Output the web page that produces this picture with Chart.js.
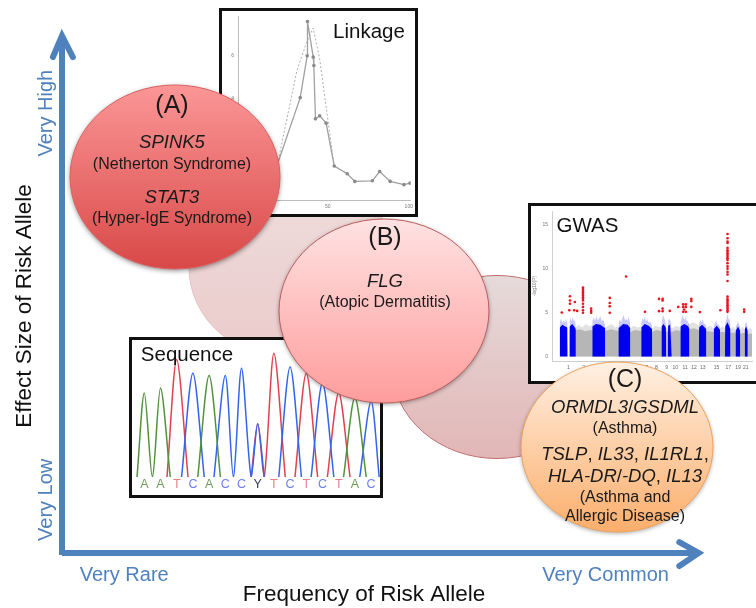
<!DOCTYPE html>
<html>
<head>
<meta charset="utf-8">
<title>Risk allele frequency and effect size</title>
<script src="https://cdn.jsdelivr.net/npm/chart.js@4/dist/chart.umd.min.js"></script>
<style>
  html, body { margin: 0; padding: 0; background: #fff; overflow: hidden; }
  #stage { position: relative; width: 756px; height: 608px; overflow: hidden; filter: blur(0.35px); }
  canvas { position: absolute; left: 0; top: 0; }
  .inset { position: absolute; box-sizing: border-box; border: 3px solid #111; background: #fff; }
  #linkage-box { left: 219px; top: 8px; width: 199px; height: 209px; }
  #sequence-box { left: 129px; top: 337px; width: 254px; height: 161px; }
  #gwas-box { left: 528px; top: 203px; width: 231px; height: 181px; }
</style>
</head>
<body>
<div id="stage">
  <canvas id="base-chart" width="756" height="608"></canvas>
  <div id="linkage-box" class="inset"><canvas id="linkage-chart" width="193" height="203"></canvas></div>
  <div id="sequence-box" class="inset"><canvas id="sequence-chart" width="248" height="155"></canvas></div>
  <div id="gwas-box" class="inset"><canvas id="gwas-chart" width="225" height="175"></canvas></div>
  <canvas id="bubble-chart" width="756" height="608"></canvas>
</div>
<script>
const FONT = '"Liberation Sans", Arial, sans-serif';
const AXIS_BLUE = "#4f81bd";

// main axes
const freqTickValues = [10.3, 90];
const freqTickLabels = ["Very Rare", "Very Common"];
const effectTickValues = [89.2, 10.6];
const effectTickLabels = ["Very High", "Very Low"];
const xAxisTitle = "Frequency of Risk Allele";
const yAxisTitle = "Effect Size of Risk Allele";

// bubbles, in axis units
const paleX = [38.41, 72.02];
const paleY = [57.72, 37.6];
const paleRx = [17.38, 17.38];
const paleRy = [18.7, 18.6];
const bubbleX = [18.71, 53.31, 91.89];
const bubbleY = [76.22, 48.98, 21.34];
const bubbleRx = [17.38, 17.38, 15.89];
const bubbleRy = [18.7, 18.7, 17.28];
const bubbleText = [
  ["(A)", "*SPINK5*", "(Netherton Syndrome)", "*STAT3*", "(Hyper-IgE Syndrome)"],
  ["(B)", "*FLG*", "(Atopic Dermatitis)"],
  ["(C)", "*ORMDL3*/*GSDML*", "(Asthma)", "*TSLP*, *IL33*, *IL1RL1*,", "*HLA-DR*/*-DQ*, *IL13*", "(Asthma and", "Allergic Disease)"],
];
const bubbleTextY = [
  [106, 143, 165, 198, 219],
  [238, 282, 303],
  [380, 408, 429, 455, 477, 498, 517],
];
const bubbleTextX = [172, 385, 625];

// linkage panel
const linkageCm = [-5, 5, 19, 33, 37.3, 37.5, 41, 41.4, 42.4, 45, 49, 54, 62, 66.7, 77.5, 82, 88.5, 97, 100.8];
const linkageLod = [0, 0.1, 0.95, 4.05, 6.0, 7.6, 5.95, 5.55, 3.06, 3.2, 2.86, 0.86, 0.5, 0.14, 0.17, 0.6, 0.14, -0.01, 0.06];
const dottedCm = [19, 31, 37.3, 41, 45, 50, 54, 62, 66.7];
const dottedLod = [0.95, 5.33, 6.7, 7.3, 5.86, 3.06, 0.86, 0.5, 0.14];
const linkageCmTicks = [0, 50, 100];
const linkageLodTicks = [0, 2, 4, 6];

// sequence trace panel, one list per channel (null y breaks the trace)
const bases = ["A", "A", "T", "C", "A", "C", "C", "Y", "T", "C", "T", "C", "T", "A", "C"];
const traceA = [[-0.45, 0], [0, 68], [0.5, 0], [1, 72], [1.6, 0], [1.6, null], [3.3, 0], [4, 82], [4.7, 0], [4.7, null], [12.3, 0], [13, 64], [13.7, 0]];
const traceC = [[2.3, 0], [3, 84], [3.7, 0], [3.7, null], [4.3, 0], [5, 82], [5.5, 0], [6, 88], [6.6, 0], [7, 43], [7.4, 0], [7.4, null], [8.3, 0], [9, 89], [9.7, 0], [9.7, null], [10.3, 0], [11, 76], [11.7, 0], [11.7, null], [13.3, 0], [14, 61], [14.5, 0]];
const traceT = [[1.4, 0], [2, 95], [2.7, 0], [2.7, null], [6.6, 0], [7, 43], [7.4, 0], [8, 100], [8.7, 0], [8.7, null], [9.3, 0], [10, 84], [10.7, 0], [10.7, null], [11.3, 0], [12, 68], [12.7, 0]];

// manhattan panel, x is position along the genome, y is -log10(P)
const chromTicks = [50, 97, 143, 183, 223, 257, 290, 320, 351, 378, 408, 435, 462, 484, 504, 522, 540, 555, 570, 584, 594, 607];
const chromLabels = ["1", "2", "3", "4", "5", "6", "7", "8", "9", "10", "11", "12", "13", "", "15", "", "17", "", "19", "", "21", ""];
const pValueTicks = [0, 5, 10, 15];
const grayEnvelope = [[53, 0], [54, 3.2], [73, 3.3], [82, 3.6], [92, 3.3], [104, 3.7], [115, 3.4], [123, 3.6], [163, 3.3], [172, 3.5], [184, 3.7], [194, 3.3], [203, 3.4], [240, 3.2], [250, 3.5], [262, 3.3], [273, 3.4], [307, 3.2], [316, 3.5], [335, 3.3], [367, 3.2], [380, 3.5], [393, 3.3], [421, 3.7], [435, 3.9], [450, 3.5], [473, 3.3], [484, 3.5], [495, 3.2], [515, 3.2], [522, 3.4], [530, 3.2], [547, 3.1], [555, 3.4], [562, 3.1], [577, 3.0], [584, 3.4], [590, 3.1], [600, 3.0], [607, 3.3], [613, 3.0], [613, 0]];
const grayCore = [[53, 0], [54, 2.9], [73, 3.0], [85, 3.1], [100, 2.9], [123, 3.0], [163, 2.9], [180, 3.1], [203, 2.9], [240, 2.8], [255, 3.0], [273, 2.9], [307, 2.8], [320, 3.0], [335, 2.9], [367, 2.8], [380, 3.0], [393, 2.9], [421, 3.1], [435, 3.2], [450, 3.0], [473, 2.9], [495, 2.8], [515, 2.8], [530, 2.8], [547, 2.7], [562, 2.7], [577, 2.6], [590, 2.7], [600, 2.6], [613, 2.6], [613, 0]];
const blueEnvelope = [
  [23, 0], [24, 3.9], [28, 4.3], [32, 3.8], [36, 4.1], [40, 3.8], [43, 4.3], [47, 3.7], [48, 0], [48, null],
  [53, 0], [54, 4.0], [57, 4.4], [60, 4.0], [64, 4.5], [67, 4.0], [70, 4.1], [73, 3.5], [73, 0], [73, null],
  [123, 0], [124, 4.1], [128, 4.5], [132, 4.0], [136, 4.6], [140, 4.1], [144, 4.3], [148, 4.6], [152, 4.0], [156, 4.2], [163, 3.6], [163, 0], [163, null],
  [203, 0], [204, 3.8], [208, 4.2], [212, 3.9], [216, 4.4], [220, 4.7], [224, 4.1], [228, 4.3], [232, 4.0], [235, 4.6], [240, 3.7], [240, 0], [240, null],
  [273, 0], [274, 3.9], [278, 4.4], [281, 4.1], [285, 4.5], [288, 4.0], [292, 4.2], [296, 3.9], [302, 3.9], [307, 3.5], [307, 0], [307, null],
  [335, 0], [336, 3.9], [340, 4.7], [345, 4.3], [349, 3.7], [350, 0], [350, null],
  [355, 0], [356, 4.1], [360, 4.3], [365, 3.8], [367, 0], [367, null],
  [393, 0], [394, 4.0], [398, 4.4], [401, 4.7], [405, 4.1], [408, 4.5], [412, 4.1], [415, 4.1], [421, 3.6], [421, 0], [421, null],
  [450, 0], [451, 3.8], [455, 4.2], [458, 3.9], [462, 4.2], [465, 3.8], [473, 3.5], [473, 0], [473, null],
  [495, 0], [496, 3.5], [500, 3.8], [503, 4.1], [507, 3.6], [510, 3.7], [515, 3.3], [515, 0], [515, null],
  [530, 0], [531, 3.8], [535, 4.3], [538, 4.9], [541, 4.2], [544, 4.3], [547, 3.5], [547, 0], [547, null],
  [562, 0], [563, 3.4], [567, 3.7], [570, 4.0], [574, 3.5], [577, 3.4], [577, 0], [577, null],
  [590, 0], [591, 3.5], [595, 4.0], [600, 3.3], [600, 0],
];
const blueCore = [
  [23, 0], [24, 3.3], [32, 3.6], [40, 3.4], [47, 3.3], [48, 0], [48, null],
  [53, 0], [54, 3.4], [62, 3.7], [70, 3.3], [73, 3.1], [73, 0], [73, null],
  [123, 0], [124, 3.4], [135, 3.7], [148, 3.6], [163, 3.2], [163, 0], [163, null],
  [203, 0], [204, 3.2], [218, 3.7], [232, 3.6], [240, 3.2], [240, 0], [240, null],
  [273, 0], [274, 3.3], [284, 3.7], [296, 3.5], [307, 3.1], [307, 0], [307, null],
  [335, 0], [336, 3.4], [342, 3.7], [349, 3.3], [350, 0], [350, null],
  [355, 0], [356, 3.5], [362, 3.6], [367, 0], [367, null],
  [393, 0], [394, 3.4], [405, 3.7], [415, 3.5], [421, 3.2], [421, 0], [421, null],
  [450, 0], [451, 3.3], [460, 3.6], [473, 3.1], [473, 0], [473, null],
  [495, 0], [496, 3.1], [505, 3.5], [515, 3.0], [515, 0], [515, null],
  [530, 0], [531, 3.4], [538, 3.9], [547, 3.1], [547, 0], [547, null],
  [562, 0], [563, 2.9], [570, 3.4], [577, 2.9], [577, 0], [577, null],
  [590, 0], [591, 3.1], [595, 3.4], [600, 2.9], [600, 0],
];
const hitsX = [30, 55, 55, 55, 53, 70, 68, 77, 95, 95, 95, 95, 95, 95, 95, 95, 95, 95, 95, 95, 95, 120, 120, 120, 177, 177, 177, 177, 227, 285, 328, 328, 339, 339, 339, 339, 361, 387, 402, 410, 402, 410, 405, 410, 402, 427, 427, 427, 453, 516, 538, 538, 538, 538, 538, 538, 538, 538, 538, 538, 538, 538, 538, 538, 538, 538, 538, 538, 538, 538, 538, 538, 538, 538, 538, 538, 538, 538, 589, 589];
const hitsP = [5.0, 6.84, 6.36, 5.99, 5.26, 6.18, 5.26, 5.18, 7.83, 7.65, 7.46, 7.28, 7.1, 6.91, 6.73, 6.54, 6.36, 5.99, 5.63, 5.26, 4.96, 5.44, 5.18, 4.96, 6.65, 6.07, 5.7, 4.96, 9.08, 5.07, 6.54, 5.15, 6.54, 6.36, 5.44, 5.15, 5.18, 5.63, 5.92, 5.92, 5.63, 5.63, 5.33, 5.07, 5.07, 6.54, 6.29, 5.63, 5.04, 5.26, 13.9, 13.42, 13.05, 12.87, 12.32, 12.06, 11.88, 11.69, 11.51, 11.32, 11.14, 10.96, 10.59, 10.22, 9.96, 9.6, 9.3, 8.57, 6.8, 6.54, 6.36, 6.18, 5.99, 5.81, 5.63, 5.44, 5.26, 5.07, 5.33, 5.07];

function zip(xs, ys) {
  return xs.map((x, i) => ({ x, y: ys[i] }));
}

function pairs(list) {
  return list.map(([x, y]) => ({ x, y }));
}

function fixedTicks(values) {
  return (scale) => {
    scale.ticks = values.map((value) => ({ value }));
  };
}

// text with *italic* runs, centred on x
function drawRichText(ctx, text, x, y, size, color) {
  const runs = text.split("*");
  ctx.fillStyle = color;
  ctx.textBaseline = "middle";
  ctx.textAlign = "left";
  let width = 0;
  runs.forEach((run, i) => {
    ctx.font = `${i % 2 ? "italic " : ""}${size}px ${FONT}`;
    width += ctx.measureText(run).width;
  });
  let cursor = x - width / 2;
  runs.forEach((run, i) => {
    ctx.font = `${i % 2 ? "italic " : ""}${size}px ${FONT}`;
    ctx.fillText(run, cursor, y);
    cursor += ctx.measureText(run).width;
  });
}

function drawEllipse(chart, datasetIndex, rxs, rys, styleFor) {
  const { ctx, scales } = chart;
  chart.getDatasetMeta(datasetIndex).data.forEach((pt, i) => {
    const raw = chart.data.datasets[datasetIndex].data[i];
    const rx = Math.abs(scales.x.getPixelForValue(raw.x + rxs[i]) - pt.x);
    const ry = Math.abs(scales.y.getPixelForValue(raw.y + rys[i]) - pt.y);
    const style = styleFor[i];
    const grad = ctx.createLinearGradient(0, pt.y - ry, 0, pt.y + ry);
    grad.addColorStop(0, style.top);
    grad.addColorStop(1, style.bottom);
    ctx.save();
    ctx.shadowColor = style.shadow;
    ctx.shadowBlur = style.blur;
    ctx.shadowOffsetY = style.blur / 3;
    ctx.beginPath();
    ctx.ellipse(pt.x, pt.y, rx, ry, 0, 0, Math.PI * 2);
    ctx.fillStyle = grad;
    ctx.fill();
    ctx.shadowColor = "transparent";
    ctx.lineWidth = 1;
    ctx.strokeStyle = style.edge;
    ctx.stroke();
    ctx.restore();
  });
}

const paleStyles = [
  { top: "#eedddd", bottom: "#ebcaca", edge: "#e4c0c0", shadow: "transparent", blur: 0 },
  { top: "#e6dada", bottom: "#e2b6b6", edge: "#bf6f6f", shadow: "transparent", blur: 0 },
];
const bubbleStyles = [
  { top: "#fb9696", bottom: "#d94848", edge: "#dc6060", shadow: "rgba(0,0,0,0.45)", blur: 5 },
  { top: "#ffe2e2", bottom: "#ff9c9c", edge: "#bd5f5f", shadow: "rgba(0,0,0,0.4)", blur: 4 },
  { top: "#fff0e2", bottom: "#fbae6c", edge: "#f0a35c", shadow: "rgba(0,0,0,0.35)", blur: 4 },
];

const silent = { legend: { display: false }, tooltip: { enabled: false }, title: { display: false } };

new Chart(document.getElementById("base-chart"), {
  type: "scatter",
  data: {
    datasets: [
      { data: zip(paleX, paleY), pointRadius: 0 },
      { data: [{ x: 0, y: -0.6 }, { x: 0, y: 104.5 }], showLine: true, borderColor: AXIS_BLUE, borderWidth: 6, pointRadius: 0, clip: false },
      { data: [{ x: -1.5, y: 100.6 }, { x: 0, y: 104.9 }, { x: 1.8, y: 100.6 }], showLine: true, borderColor: AXIS_BLUE, borderWidth: 6, pointRadius: 0, clip: false, borderCapStyle: "round" },
      { data: [{ x: 0, y: -0.2 }, { x: 105, y: -0.2 }], showLine: true, borderColor: AXIS_BLUE, borderWidth: 6, pointRadius: 0, clip: false },
      { data: [{ x: 102.2, y: 2 }, { x: 105.4, y: -0.2 }, { x: 102.2, y: -2.85 }], showLine: true, borderColor: AXIS_BLUE, borderWidth: 6, pointRadius: 0, clip: false, borderCapStyle: "round" },
    ],
  },
  options: {
    responsive: false,
    animation: false,
    events: [],
    layout: { padding: { top: 60, right: 90, left: 0, bottom: 0 } },
    plugins: silent,
    scales: {
      x: {
        min: 0,
        max: 100,
        afterFit: (s) => { s.height = 56; },
        afterBuildTicks: fixedTicks(freqTickValues),
        grid: { display: false, drawTicks: false },
        border: { display: false },
        ticks: {
          autoSkip: false,
          maxRotation: 0,
          padding: 11,
          color: AXIS_BLUE,
          font: { family: FONT, size: 20 },
          callback: (v, i) => freqTickLabels[i],
        },
        title: { display: true, text: xAxisTitle, color: "#111", font: { family: FONT, size: 22.5 }, padding: { top: 2, bottom: 0 } },
      },
      y: {
        min: 0,
        max: 100,
        afterFit: (s) => { s.width = 62; },
        grid: { display: false, drawTicks: false },
        border: { display: false },
        ticks: { display: false },
        title: { display: true, text: yAxisTitle, color: "#111", font: { family: FONT, size: 22.5 }, padding: { top: 11, bottom: 0 } },
      },
    },
  },
  plugins: [{
    id: "paleBubbles",
    beforeDatasetsDraw(chart) {
      drawEllipse(chart, 0, paleRx, paleRy, paleStyles);
    },
    afterDraw(chart) {
      const { ctx, scales } = chart;
      effectTickLabels.forEach((label, i) => {
        ctx.save();
        ctx.translate(46, scales.y.getPixelForValue(effectTickValues[i]));
        ctx.rotate(-Math.PI / 2);
        drawRichText(ctx, label, 0, 0, 20, AXIS_BLUE);
        ctx.restore();
      });
    },
  }],
});

new Chart(document.getElementById("linkage-chart"), {
  type: "scatter",
  data: {
    datasets: [
      { data: zip(linkageCm, linkageLod), showLine: true, borderColor: "#a0a0a0", borderWidth: 1.3, pointRadius: 1.8, pointBackgroundColor: "#8a8a8a", pointBorderWidth: 0 },
      { data: zip(dottedCm, dottedLod), showLine: true, borderColor: "#adadad", borderWidth: 1, borderDash: [2, 2], pointRadius: 0 },
    ],
  },
  options: {
    responsive: false,
    animation: false,
    events: [],
    plugins: silent,
    scales: {
      x: {
        min: -5.4,
        max: 101.2,
        afterFit: (s) => { s.height = 14; },
        afterBuildTicks: fixedTicks(linkageCmTicks),
        grid: { display: false, drawTicks: true, tickLength: 2 },
        border: { color: "#bcbcbc", width: 1 },
        ticks: { autoSkip: false, maxRotation: 0, padding: 2, color: "#777", font: { family: FONT, size: 5 } },
      },
      y: {
        min: -0.727,
        max: 7.86,
        afterFit: (s) => { s.width = 16; },
        afterBuildTicks: fixedTicks(linkageLodTicks),
        grid: { display: false, drawTicks: true, tickLength: 2 },
        border: { color: "#bcbcbc", width: 1 },
        ticks: { autoSkip: false, padding: 2, color: "#777", font: { family: FONT, size: 5 } },
      },
    },
  },
  plugins: [{
    id: "panelLabel",
    afterDraw(chart) {
      drawRichText(chart.ctx, "Linkage", 147, 21, 20.5, "#111");
    },
  }],
});

new Chart(document.getElementById("sequence-chart"), {
  type: "scatter",
  data: {
    datasets: [
      { data: pairs(traceA), showLine: true, borderColor: "#55903f", borderWidth: 1.5, pointRadius: 0, tension: 0.3 },
      { data: pairs(traceC), showLine: true, borderColor: "#3563ee", borderWidth: 1.5, pointRadius: 0, tension: 0.3 },
      { data: pairs(traceT), showLine: true, borderColor: "#e2404f", borderWidth: 1.5, pointRadius: 0, tension: 0.3 },
    ],
  },
  options: {
    responsive: false,
    animation: false,
    events: [],
    plugins: silent,
    scales: {
      x: {
        min: -0.76,
        max: 14.55,
        afterFit: (s) => { s.height = 18; },
        afterBuildTicks: fixedTicks(bases.map((b, i) => i)),
        grid: { display: false, drawTicks: false },
        border: { display: false },
        ticks: {
          autoSkip: false,
          maxRotation: 0,
          padding: 0,
          font: { family: FONT, size: 12.5 },
          callback: (v, i) => bases[i],
          color: (c) => ({ A: "#6f9c58", T: "#e6808a", C: "#6e80ea", Y: "#33405f" }[bases[c.index]]),
        },
      },
      y: { display: false, min: 0, max: 110.8 },
    },
  },
  plugins: [{
    id: "panelLabel",
    afterDraw(chart) {
      drawRichText(chart.ctx, "Sequence", 55, 15, 20.5, "#111");
    },
  }],
});

new Chart(document.getElementById("gwas-chart"), {
  type: "scatter",
  data: {
    datasets: [
      { data: zip(hitsX, hitsP), pointRadius: 1.3, pointBackgroundColor: "#e8141c", pointBorderWidth: 0 },
      { data: pairs(blueCore), showLine: true, borderWidth: 0, pointRadius: 0, fill: "origin", backgroundColor: "#0000ee" },
      { data: pairs(blueEnvelope), showLine: true, borderWidth: 0, pointRadius: 0, fill: "origin", backgroundColor: "rgba(120,120,245,0.4)" },
      { data: pairs(grayCore), showLine: true, borderWidth: 0, pointRadius: 0, fill: "origin", backgroundColor: "#b6b6b6" },
      { data: pairs(grayEnvelope), showLine: true, borderWidth: 0, pointRadius: 0, fill: "origin", backgroundColor: "#e2e2e2" },
    ],
  },
  options: {
    responsive: false,
    animation: false,
    events: [],
    plugins: silent,
    scales: {
      x: {
        min: 0,
        max: 613,
        afterFit: (s) => { s.height = 20; },
        afterBuildTicks: fixedTicks(chromTicks),
        grid: { display: false, drawTicks: true, tickLength: 2 },
        border: { color: "#cfcfcf", width: 1 },
        ticks: {
          autoSkip: false,
          maxRotation: 0,
          padding: 2,
          color: "#666",
          font: { family: FONT, size: 5 },
          callback: (v, i) => chromLabels[i],
        },
      },
      y: {
        min: -0.5,
        max: 16.5,
        afterFit: (s) => { s.width = 21; },
        afterBuildTicks: fixedTicks(pValueTicks),
        grid: { display: false, drawTicks: true, tickLength: 2 },
        border: { color: "#cfcfcf", width: 1 },
        ticks: { autoSkip: false, padding: 2, color: "#777", font: { family: FONT, size: 5 } },
        title: { display: true, text: "-log10(P)", color: "#777", font: { family: FONT, size: 5 }, padding: { top: 1, bottom: 0 } },
      },
    },
  },
  plugins: [{
    id: "panelLabel",
    afterDraw(chart) {
      drawRichText(chart.ctx, "GWAS", 56.5, 20, 20.5, "#111");
    },
  }],
});

new Chart(document.getElementById("bubble-chart"), {
  type: "scatter",
  data: { datasets: [{ data: zip(bubbleX, bubbleY), pointRadius: 0 }] },
  options: {
    responsive: false,
    animation: false,
    events: [],
    layout: { padding: { top: 60, right: 90, left: 62, bottom: 56 } },
    plugins: silent,
    scales: {
      x: { display: false, min: 0, max: 100 },
      y: { display: false, min: 0, max: 100 },
    },
  },
  plugins: [{
    id: "bubbles",
    afterDatasetsDraw(chart) {
      drawEllipse(chart, 0, bubbleRx, bubbleRy, bubbleStyles);
      bubbleText.forEach((lines, b) => {
        lines.forEach((line, i) => {
          const size = i === 0 ? 25 : line.includes("*") ? 18.5 : 16;
          drawRichText(chart.ctx, line, bubbleTextX[b], bubbleTextY[b][i], size, "#1a1a1a");
        });
      });
    },
  }],
});
</script>
</body>
</html>
